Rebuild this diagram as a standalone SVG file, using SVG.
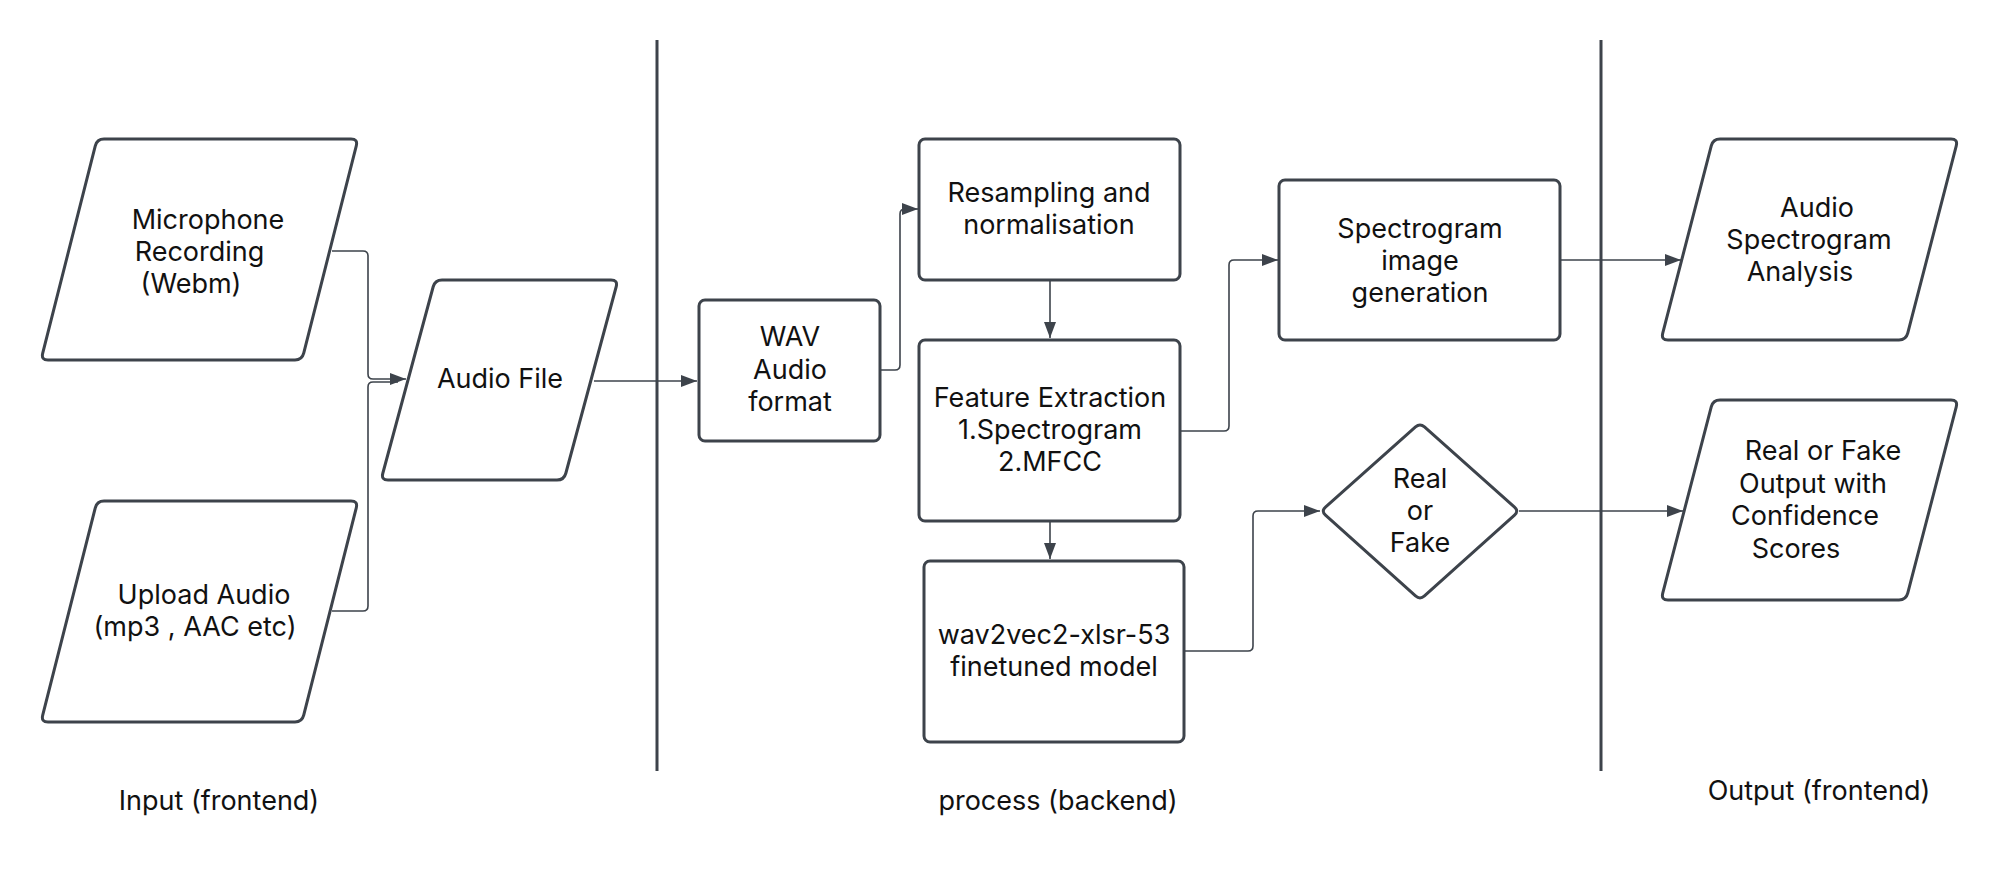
<svg xmlns="http://www.w3.org/2000/svg" width="2000" height="870" viewBox="0 0 2000 870">
<style>
.shape{fill:#ffffff;stroke:#3d434b;stroke-width:3;stroke-linejoin:round}
.lane{stroke:#3d434b;stroke-width:3;fill:none}
.conn{fill:none;stroke:#3d434b;stroke-width:1.6}
.t{font-family:Inter,"Noto Sans","Liberation Sans",sans-serif;font-size:27px;fill:#111111;text-anchor:middle}
</style>
<defs>
<marker id="arr" markerUnits="userSpaceOnUse" markerWidth="16" markerHeight="12" refX="16" refY="6" orient="auto">
<path d="M0,0 L16,6 L0,12 Z" fill="#3d434b"/>
</marker>
</defs>
<rect width="2000" height="870" fill="#ffffff"/>
<g id="lanes">
<line class="lane" x1="657" y1="40" x2="657" y2="771"/>
<line class="lane" x1="1601" y1="40" x2="1601" y2="771"/>
</g>
<g id="connectors">
<path class="conn" d="M332,611 H363 Q368,611 368,606 V387 Q368,382 373,382 H398"/>
<path class="conn" marker-end="url(#arr)" d="M332,251 H363 Q368,251 368,256 V374 Q368,379 373,379 H406"/>
<path class="conn" marker-end="url(#arr)" d="M594,381 H697"/>
<path class="conn" marker-end="url(#arr)" d="M880,370 H895 Q900,370 900,365 V214 Q900,209 905,209 H918"/>
<path class="conn" marker-end="url(#arr)" d="M1050,280 V338"/>
<path class="conn" marker-end="url(#arr)" d="M1050,521 V559"/>
<path class="conn" marker-end="url(#arr)" d="M1181,431 H1224 Q1229,431 1229,426 V265 Q1229,260 1234,260 H1278"/>
<path class="conn" marker-end="url(#arr)" d="M1185,651 H1248 Q1253,651 1253,646 V516 Q1253,511 1258,511 H1320"/>
<path class="conn" marker-end="url(#arr)" d="M1561,260 H1681"/>
<path class="conn" marker-end="url(#arr)" d="M1519,511 H1683"/>
</g>
<g id="microphone">
<path class="shape" d="M104,139 H351 Q358,139 356.28,145.79 L303.72,353.21 Q302,360 295,360 H48 Q41,360 42.72,353.21 L95.28,145.79 Q97,139 104,139 Z"/>
<text class="t" x="208" y="229">Microphone</text>
<text class="t" x="199.5" y="261">Recording</text>
<text class="t" x="191" y="293">(Webm)</text>
</g>
<g id="upload">
<path class="shape" d="M104,501 H351 Q358,501 356.28,507.79 L303.72,715.21 Q302,722 295,722 H48 Q41,722 42.72,715.21 L95.28,507.79 Q97,501 104,501 Z"/>
<text class="t" x="204" y="604">Upload Audio</text>
<text class="t" x="195" y="636">(mp3 , AAC etc)</text>
</g>
<g id="audiofile">
<path class="shape" d="M442,280 H611 Q618,280 616.18,286.76 L565.82,473.24 Q564,480 557,480 H388 Q381,480 382.82,473.24 L433.18,286.76 Q435,280 442,280 Z"/>
<text class="t" x="500" y="388">Audio File</text>
</g>
<g id="wav">
<rect class="shape" x="699" y="300" width="181" height="141" rx="6"/>
<text class="t" x="790" y="346">WAV</text>
<text class="t" x="790" y="379">Audio</text>
<text class="t" x="790" y="411">format</text>
</g>
<g id="resampling">
<rect class="shape" x="919" y="139" width="261" height="141" rx="6"/>
<text class="t" x="1049" y="202">Resampling and</text>
<text class="t" x="1049" y="234">normalisation</text>
</g>
<g id="feature">
<rect class="shape" x="919" y="340" width="261" height="181" rx="6"/>
<text class="t" x="1050" y="407">Feature Extraction</text>
<text class="t" x="1050" y="439">1.Spectrogram</text>
<text class="t" x="1050" y="471">2.MFCC</text>
</g>
<g id="wav2vec">
<rect class="shape" x="924" y="561" width="260" height="181" rx="6"/>
<text class="t" x="1054" y="644">wav2vec2-xlsr-53</text>
<text class="t" x="1054" y="676">finetuned model</text>
</g>
<g id="spectrogram">
<rect class="shape" x="1279" y="180" width="281" height="160" rx="6"/>
<text class="t" x="1420" y="238">Spectrogram</text>
<text class="t" x="1420" y="270">image</text>
<text class="t" x="1420" y="302">generation</text>
</g>
<g id="realfake">
<path class="shape" d="M1325.48,507.02 L1415.52,426.98 Q1420,423 1424.48,426.98 L1514.52,507.02 Q1519,511 1514.52,515.02 L1424.48,595.98 Q1420,600 1415.52,595.98 L1325.48,515.02 Q1321,511 1325.48,507.02 Z"/>
<text class="t" x="1420" y="488">Real</text>
<text class="t" x="1420" y="520">or</text>
<text class="t" x="1420" y="552">Fake</text>
</g>
<g id="analysis">
<path class="shape" d="M1720,139 H1951 Q1958,139 1956.25,145.78 L1907.75,333.22 Q1906,340 1899,340 H1668 Q1661,340 1662.75,333.22 L1711.25,145.78 Q1713,139 1720,139 Z"/>
<text class="t" x="1817" y="217">Audio</text>
<text class="t" x="1809" y="249">Spectrogram</text>
<text class="t" x="1800" y="281">Analysis</text>
</g>
<g id="output">
<path class="shape" d="M1720,400 H1951 Q1958,400 1956.25,406.78 L1907.75,593.22 Q1906,600 1899,600 H1668 Q1661,600 1662.75,593.22 L1711.25,406.78 Q1713,400 1720,400 Z"/>
<text class="t" x="1823" y="460">Real or Fake</text>
<text class="t" x="1813" y="493">Output with</text>
<text class="t" x="1805" y="525">Confidence</text>
<text class="t" x="1796" y="558">Scores</text>
</g>
<g id="labels">
<text class="t" x="219" y="810">Input (frontend)</text>
<text class="t" x="1058" y="810">process (backend)</text>
<text class="t" x="1819" y="800">Output (frontend)</text>
</g>
</svg>
